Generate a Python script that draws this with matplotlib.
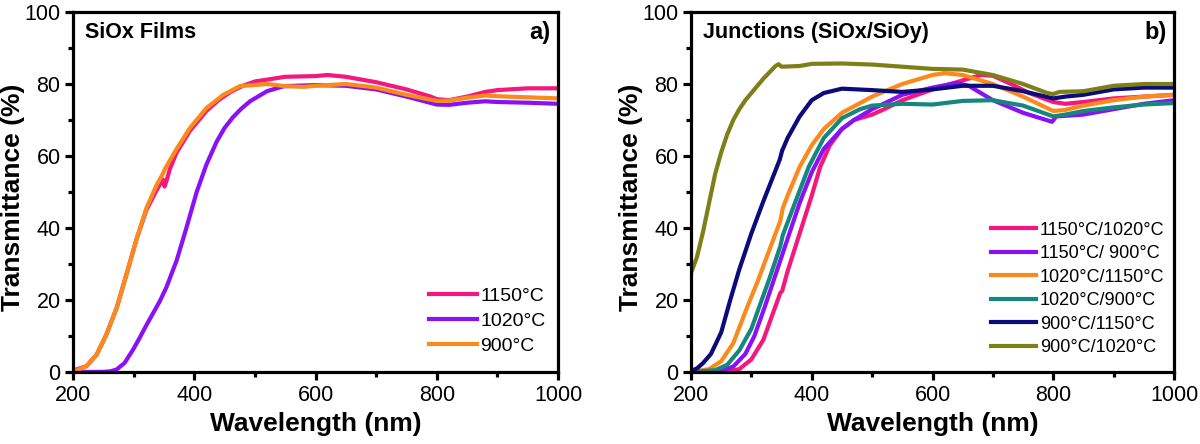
import matplotlib.pyplot as plt
from matplotlib.ticker import MultipleLocator

plt.rcParams['font.family'] = ['Liberation Sans', 'DejaVu Sans']

# ---- panel a) SiOx films ----
wl_a_1150 = [200, 222, 239, 255, 272, 288, 305, 321, 338, 348, 351, 354, 360, 371, 393, 420, 440, 460,
             480, 500, 550, 600, 620, 650, 700, 750, 790, 800, 820, 850, 880, 900, 950, 1000]
t_a_1150 = [0.4, 1.6, 4.8, 10.4, 17.8, 27, 37, 45, 50.5, 53.5, 51.5, 53, 56.5, 61, 67, 72.5, 75.5, 77.8,
            79.5, 80.7, 82, 82.2, 82.5, 82, 80.5, 78.5, 76.5, 75.8, 75.5, 76.5, 77.8, 78.3, 78.8, 78.8]

wl_a_1020 = [200, 250, 262, 272, 285, 299, 310, 321, 332, 343, 354, 371, 387, 404, 420, 437, 450, 464,
             478, 492, 520, 548, 600, 650, 700, 750, 800, 820, 850, 880, 900, 950, 1000]
t_a_1020 = [0, 0.05, 0.2, 0.7, 2.5, 6.2, 9.5, 13, 16.3, 19.6, 23.5, 31, 40, 50, 57.6, 64, 67.8, 70.8,
            73.2, 75.2, 78, 79.4, 79.7, 79.5, 78.5, 76.5, 74.3, 74.2, 74.8, 75.2, 75, 74.8, 74.5]

wl_a_900 = [200, 205, 222, 239, 255, 272, 288, 305, 321, 338, 348, 352, 371, 393, 420, 448, 475, 520,
            550, 580, 600, 650, 700, 750, 800, 820, 850, 880, 900, 950, 1000]
t_a_900 = [0.2, 0.4, 1.6, 4.8, 10.4, 17.8, 27, 37, 45.5, 52, 55, 56.5, 62, 67.8, 73.3, 77, 79.4, 80,
           79.4, 79.2, 79.5, 80, 79, 77, 75.3, 75.4, 76.2, 76.8, 76.6, 76.3, 76]

# ---- panel b) junctions ----
wl_b_1150_1020 = [200, 260, 280, 300, 320, 335, 348, 351, 360, 380, 400, 414, 430, 450, 470, 500,
                  520, 550, 600, 650, 680, 700, 730, 760, 800, 820, 850, 900, 950, 1000]
t_b_1150_1020 = [0, 0.1, 0.8, 3.5, 9, 16, 22, 22.5, 28, 38.5, 49, 57, 63, 67.5, 70, 71.5,
                 73, 75.5, 78.5, 81, 82.5, 82.3, 80, 77.5, 75, 74.5, 75, 76, 76.5, 77]

wl_b_1150_900 = [200, 250, 270, 290, 305, 322, 340, 360, 380, 400, 420, 450, 470, 500, 550, 600,
                 640, 660, 700, 750, 798, 805, 850, 900, 950, 1000]
t_b_1150_900 = [0, 0.3, 1.5, 5, 10, 18, 27, 37, 47, 55.5, 62, 67.5, 70, 73, 77, 79,
                80.3, 79.5, 75.5, 72, 69.5, 71, 71.5, 73, 74.5, 75.5]

wl_b_1020_1150 = [200, 230, 250, 270, 293, 310, 330, 348, 352, 360, 380, 400, 420, 450, 500, 550,
                  600, 620, 650, 700, 750, 800, 820, 850, 900, 950, 1000]
t_b_1020_1150 = [0, 0.8, 3, 8, 18, 25, 34, 42, 45.5, 49, 57, 63, 67.5, 72, 76.5, 80,
                 82.5, 83, 82.5, 80, 76.5, 72.5, 72.8, 74, 75.5, 76.5, 77]

wl_b_1020_900 = [200, 240, 260, 280, 300, 315, 330, 348, 352, 370, 395, 420, 450, 480, 500, 550,
                 600, 650, 700, 750, 800, 820, 850, 900, 950, 1000]
t_b_1020_900 = [0, 0.5, 2, 6, 12, 19, 26, 35, 38, 46, 57, 65, 70.5, 73, 74, 74.5,
                74.3, 75.3, 75.5, 74, 71, 71.5, 72.5, 73.5, 74.3, 74.7]

wl_b_900_1150 = [200, 210, 220, 233, 250, 265, 280, 300, 320, 340, 347, 351, 360, 380, 400, 420,
                 450, 500, 550, 600, 650, 700, 750, 800, 820, 850, 900, 950, 1000]
t_b_900_1150 = [0.3, 1, 2.5, 5, 11, 20, 28.5, 38.5, 47.5, 56, 59, 61.5, 65, 71, 75.5, 77.5,
                78.7, 78.3, 77.8, 78.5, 79.5, 79.5, 78, 76, 76.5, 77, 78.5, 79, 79]

wl_b_900_1020 = [200, 210, 220, 230, 240, 250, 260, 270, 280, 290, 300, 320, 340, 345, 350, 380,
                 400, 450, 500, 550, 600, 650, 700, 750, 790, 800, 810, 850, 900, 950, 1000]
t_b_900_1020 = [27.5, 32, 39, 47, 55, 61, 66, 70, 73, 75.5, 77.5, 81.5, 85, 85.5, 84.8, 85,
                85.6, 85.7, 85.4, 84.8, 84.2, 84, 82.5, 80, 77.5, 77.2, 77.8, 78, 79.5, 80, 80]

labels_a = ['1150°C', '1020°C', '900°C']
colors_a = ['#f5177d', '#8a10f5', '#fb8a1c']
labels_b = ['1150°C/1020°C', '1150°C/ 900°C', '1020°C/1150°C',
            '1020°C/900°C', '900°C/1150°C', '900°C/1020°C']
colors_b = ['#f5177d', '#8a10f5', '#fb8a1c', '#16877f', '#0b0b7a', '#7f7f17']

series_a = [(wl_a_1150, t_a_1150), (wl_a_1020, t_a_1020), (wl_a_900, t_a_900)]
series_b = [(wl_b_1150_1020, t_b_1150_1020), (wl_b_1150_900, t_b_1150_900),
            (wl_b_1020_1150, t_b_1020_1150), (wl_b_1020_900, t_b_1020_900),
            (wl_b_900_1150, t_b_900_1150), (wl_b_900_1020, t_b_900_1020)]

fig = plt.figure(figsize=(12, 4.44), dpi=100)
ax_a = fig.add_axes([73 / 1200, 1 - 372 / 444, 485 / 1200, 360 / 444])
ax_b = fig.add_axes([691 / 1200, 1 - 372 / 444, 483 / 1200, 360 / 444])


def style_axes(ax, width_px):
    ax.set_xlim(200, 1000)
    ax.set_ylim(0, 100)
    ax.xaxis.set_major_locator(MultipleLocator(200))
    ax.xaxis.set_minor_locator(MultipleLocator(100))
    ax.yaxis.set_major_locator(MultipleLocator(20))
    ax.yaxis.set_minor_locator(MultipleLocator(10))
    for s in ax.spines.values():
        s.set_linewidth(2.3)
    ax.tick_params(which='major', direction='out', length=6, width=2.3, labelsize=15.5, pad=3)
    ax.tick_params(which='minor', direction='out', length=3.5, width=2.3)
    ax.set_xlabel('Wavelength (nm)', fontsize=19, fontweight='bold', va='center')
    ax.set_ylabel('Transmittance (%)', fontsize=19, fontweight='bold', va='center')
    ax.xaxis.set_label_coords(0.5, -52 / 360)
    ax.yaxis.set_label_coords(-60 / width_px, 175 / 360)


for (x, y), lab, c in zip(series_a, labels_a, colors_a):
    ax_a.plot(x, y, color=c, lw=3, label=lab, solid_joinstyle='round')
for (x, y), lab, c in zip(series_b, labels_b, colors_b):
    ax_b.plot(x, y, color=c, lw=3, label=lab, solid_joinstyle='round')

style_axes(ax_a, 485)
style_axes(ax_b, 483)

ax_a.text(0.025, 0.944, 'SiOx Films', transform=ax_a.transAxes, fontsize=15.5,
          fontweight='bold', va='center', ha='left')
ax_a.text(0.985, 0.944, 'a)', transform=ax_a.transAxes, fontsize=17,
          fontweight='bold', va='center', ha='right')
ax_b.text(0.025, 0.944, 'Junctions (SiOx/SiOy)', transform=ax_b.transAxes, fontsize=15.5,
          fontweight='bold', va='center', ha='left')
ax_b.text(0.985, 0.944, 'b)', transform=ax_b.transAxes, fontsize=17,
          fontweight='bold', va='center', ha='right')

ax_a.legend(loc='lower left', frameon=False, fontsize=14, handlelength=2.45,
            handletextpad=0.2, labelspacing=0.38, borderpad=0, borderaxespad=0,
            bbox_to_anchor=(0.734, 0.047))
ax_b.legend(loc='lower left', frameon=False, fontsize=13, handlelength=2.5,
            handletextpad=0.22, labelspacing=0.36, borderpad=0, borderaxespad=0,
            bbox_to_anchor=(0.621, 0.044))

fig.savefig('out.png', dpi=100)
